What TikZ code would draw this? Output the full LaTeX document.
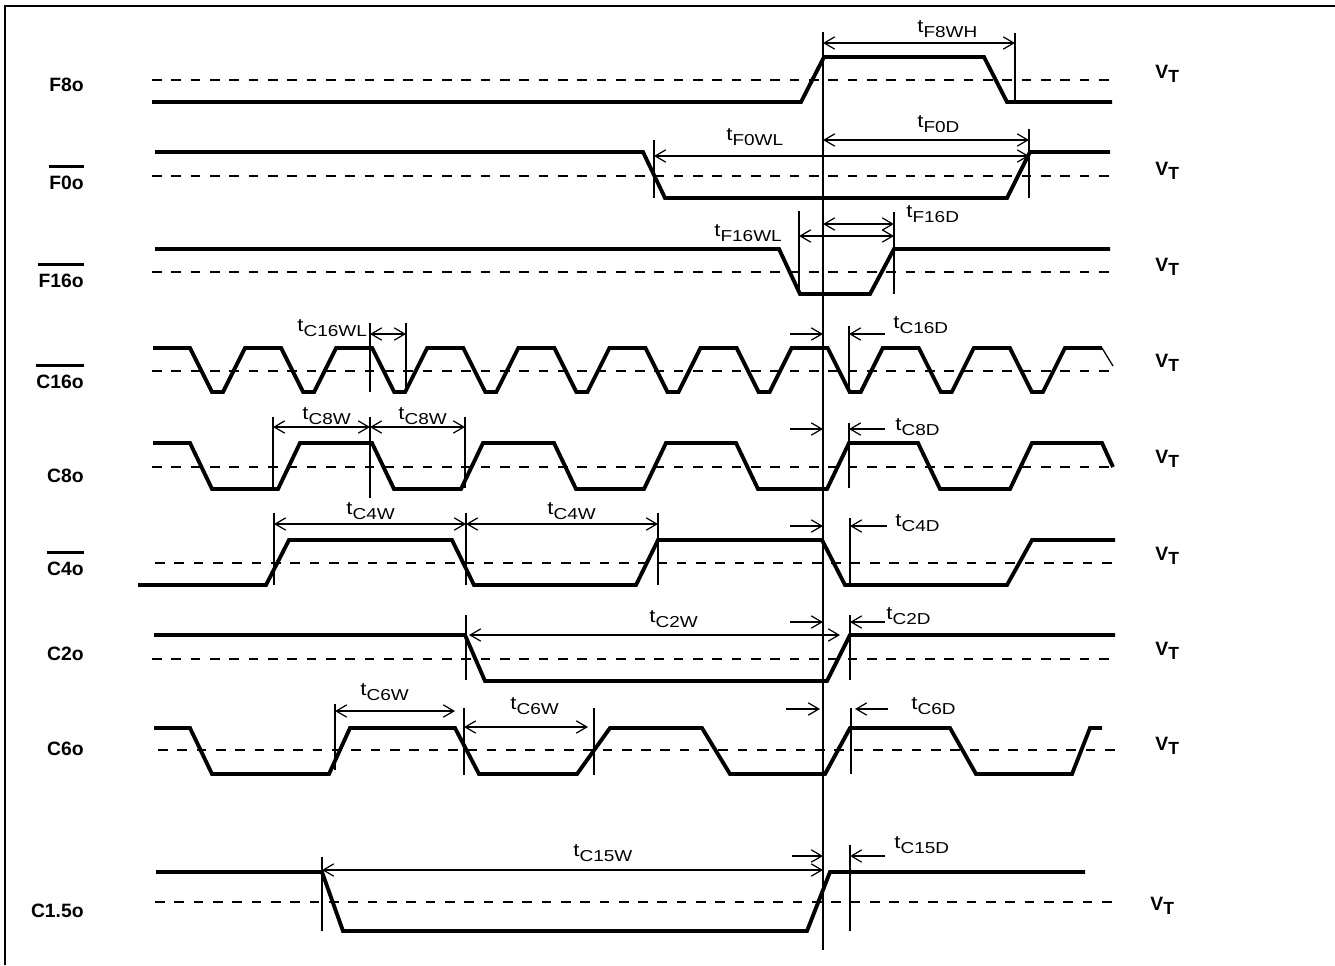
\documentclass[tikz,border=0pt]{standalone}
\usepackage{fontspec}
\setmainfont{Liberation Sans}
\usetikzlibrary{arrows.meta}

\newcommand{\tlab}[1]{t\raisebox{-0.5ex}{\fontsize{9}{10}\selectfont #1}}
\newcommand{\vtlab}{\textbf{V\raisebox{-0.45ex}{\fontsize{10}{11}\selectfont T}}}

\tikzset{
  sig/.style={line width=2.2pt, line join=miter},
  vtline/.style={line width=0.9pt, dash pattern=on 5.5pt off 5.5pt},
  tickline/.style={line width=0.7pt},
  dimline/.style={line width=0.7pt, {Straight Barb[length=6pt,width=7pt]}-{Straight Barb[length=6pt,width=7pt]}},
  toline/.style={line width=0.7pt, -{Straight Barb[length=6pt,width=7pt]}},
  tlabel/.style={font=\fontsize{10.5}{12}\selectfont, inner sep=0pt, anchor=west, xscale=1.2},
  siglabel/.style={font=\fontsize{11}{13}\selectfont\bfseries, inner sep=0pt, anchor=base east},
  vtlabel/.style={font=\fontsize{11}{13}\selectfont, inner sep=0pt, anchor=base west},
  overbar/.style={line width=1.3pt}
}

\begin{document}
\begin{tikzpicture}[x=0.02cm, y=-0.02cm]
\useasboundingbox (0,0) rectangle (1335,965);
%外框
\draw[line width=1.1pt] (5,965) -- (5,6) -- (1335,6);

%訊號名稱
\node[siglabel] (lblFeight) at (84,91) {F8o};
\node[siglabel] (lblFzero) at (84,189) {F0o};
\node[siglabel] (lblFsixteen) at (84,287) {F16o};
\node[siglabel] (lblCsixteen) at (84,388) {C16o};
\node[siglabel] (lblCeight) at (84,482) {C8o};
\node[siglabel] (lblCfour) at (84,575) {C4o};
\node[siglabel] (lblCtwo) at (84,660) {C2o};
\node[siglabel] (lblCsix) at (84,755) {C6o};
\node[siglabel] (lblConefive) at (84,917) {C1.5o};
\foreach \n in {lblFzero,lblFsixteen,lblCsixteen,lblCfour}
{
    \draw[overbar] ([yshift=5pt]\n.north west) -- ([yshift=5pt]\n.north east);
}

%V_T 標記
\foreach \y/\n in {78/vtA,175/vtB,271/vtC,367/vtD,463/vtE,560/vtF,655/vtG,750/vtH}
{
    \node[vtlabel] (\n) at (1155,\y) {\vtlab};
}
\node[vtlabel] (vtI) at (1150,910) {\vtlab};

%參考線
\draw[line width=0.8pt] (823,32) -- (823,950);

%F8o
\draw[vtline] (152,80) -- (1111,80);
\draw[sig] (152,102) -- (801,102) -- (824,57) -- (984,57) -- (1007,102) -- (1112,102);
\draw[tickline] (1015,33) -- (1015,100);
\draw[dimline] (823,43) -- (1015,43);
\node[tlabel] (tFeightWH) at (917,29) {\tlab{F8WH}};

%F0o
\draw[vtline] (152,176) -- (1111,176);
\draw[sig] (155,152) -- (643,152) -- (665,198) -- (1007,198) -- (1030,152) -- (1110,152);
\draw[tickline] (654,140) -- (654,198);
\draw[tickline] (1029,129) -- (1029,198);
\draw[dimline] (654,156) -- (1029,156);
\draw[dimline] (823,140) -- (1029,140);
\node[tlabel] (tFzeroWL) at (726,137) {\tlab{F0WL}};
\node[tlabel] (tFzeroD) at (917,124) {\tlab{F0D}};

%F16o
\draw[vtline] (152,272) -- (1111,272);
\draw[sig] (155,249) -- (779,249) -- (800,294) -- (870,294) -- (894,249) -- (1110,249);
\draw[tickline] (799,211) -- (799,294);
\draw[tickline] (894,212) -- (894,294);
\draw[dimline] (799,236) -- (894,236);
\draw[dimline] (823,224) -- (894,224);
\node[tlabel] (tFsixteenWL) at (714,233) {\tlab{F16WL}};
\node[tlabel] (tFsixteenD) at (906,214) {\tlab{F16D}};

%C16o
\draw[vtline] (152,371) -- (1113,371);
\draw[sig] (153,348) \foreach \k in {0,...,9}
    { -- ({190+91.1*\k},348) -- ({212+91.1*\k},392) -- ({223+91.1*\k},392) -- ({245+91.1*\k},348) }
    -- (1102,348);
\draw[tickline] (1102,348) -- (1113,366);
\draw[tickline] (370,323) -- (370,392);
\draw[tickline] (406,323) -- (406,392);
\draw[tickline] (849,326) -- (849,392);
\draw[dimline] (370,334) -- (406,334);
\draw[toline] (790,334) -- (823,334);
\draw[toline] (885,334) -- (849,334);
\node[tlabel] (tCsixteenWL) at (297,328) {\tlab{C16WL}};
\node[tlabel] (tCsixteenD) at (893,325) {\tlab{C16D}};

%C8o
\draw[vtline] (152,467) -- (1113,467);
\draw[sig] (153,443) \foreach \k in {0,...,4}
    { -- ({190+182*\k},443) -- ({212+182*\k},489) -- ({278+183*\k},489) -- ({300+183*\k},443) }
    -- (1102,443) -- (1113,467);
\draw[tickline] (273,417) -- (273,488);
\draw[tickline] (370,417) -- (370,498);
\draw[tickline] (465,417) -- (465,488);
\draw[tickline] (849,423) -- (849,488);
\draw[dimline] (273,427) -- (370,427);
\draw[dimline] (370,427) -- (465,427);
\draw[toline] (790,429) -- (823,429);
\draw[toline] (885,429) -- (849,429);
\node[tlabel] (tCeightWa) at (302,416) {\tlab{C8W}};
\node[tlabel] (tCeightWb) at (398,416) {\tlab{C8W}};
\node[tlabel] (tCeightD) at (895,427) {\tlab{C8D}};

%C4o
\draw[vtline] (155,563) -- (1117,563);
\draw[sig] (138,585) -- (266,585) -- (289,540) -- (452,540) -- (474,585) -- (636,585) -- (658,540)
    -- (822,540) -- (845,585) -- (1007,585) -- (1032,540) -- (1115,540);
\draw[tickline] (274,513) -- (274,585);
\draw[tickline] (466,513) -- (466,585);
\draw[tickline] (658,513) -- (658,585);
\draw[tickline] (850,518) -- (850,585);
\draw[dimline] (274,524) -- (466,524);
\draw[dimline] (466,524) -- (658,524);
\draw[toline] (790,526) -- (823,526);
\draw[toline] (887,526) -- (850,526);
\node[tlabel] (tCfourWa) at (346,511) {\tlab{C4W}};
\node[tlabel] (tCfourWb) at (547,511) {\tlab{C4W}};
\node[tlabel] (tCfourD) at (895,523) {\tlab{C4D}};

%C2o
\draw[vtline] (152,659) -- (1115,659);
\draw[sig] (154,635) -- (465,635) -- (485,681) -- (827,681) -- (850,635) -- (1115,635);
\draw[tickline] (466,615) -- (466,680);
\draw[tickline] (850,615) -- (850,680);
\draw[dimline] (469,635) -- (840,635);
\draw[toline] (790,622) -- (823,622);
\draw[toline] (885,622) -- (850,622);
\node[tlabel] (tCtwoW) at (649,619) {\tlab{C2W}};
\node[tlabel] (tCtwoD) at (886,616) {\tlab{C2D}};

%C6o
\draw[vtline] (158,750) -- (1115,750);
\draw[sig] (154,728) -- (190,728) -- (212,774) -- (329,774) -- (350,728) -- (455,728) -- (479,774)
    -- (577,774) -- (610,728) -- (702,728) -- (730,774) -- (825,774) -- (850,728) -- (950,728)
    -- (976,774) -- (1072,774) -- (1090,728) -- (1102,728);
\draw[tickline] (335,704) -- (335,770);
\draw[tickline] (464,708) -- (464,775);
\draw[tickline] (594,708) -- (594,775);
\draw[tickline] (851,708) -- (851,774);
\draw[dimline] (335,711) -- (455,711);
\draw[dimline] (464,727) -- (588,727);
\draw[toline] (786,709) -- (820,709);
\draw[toline] (888,709) -- (855,709);
\node[tlabel] (tCsixWa) at (360,692) {\tlab{C6W}};
\node[tlabel] (tCsixWb) at (510,706) {\tlab{C6W}};
\node[tlabel] (tCsixD) at (911,706) {\tlab{C6D}};

%C1.5o
\draw[vtline] (155,902) -- (1115,902);
\draw[sig] (156,872) -- (322,872) -- (343,931) -- (807,931) -- (830,872) -- (1085,872);
\draw[tickline] (322,857) -- (322,931);
\draw[tickline] (850,845) -- (850,931);
\draw[dimline] (322,870) -- (823,870);
\draw[toline] (792,856) -- (823,856);
\draw[toline] (885,856) -- (850,856);
\node[tlabel] (tConefiveW) at (573,853) {\tlab{C15W}};
\node[tlabel] (tConefiveD) at (894,845) {\tlab{C15D}};

\end{tikzpicture}
\end{document}
